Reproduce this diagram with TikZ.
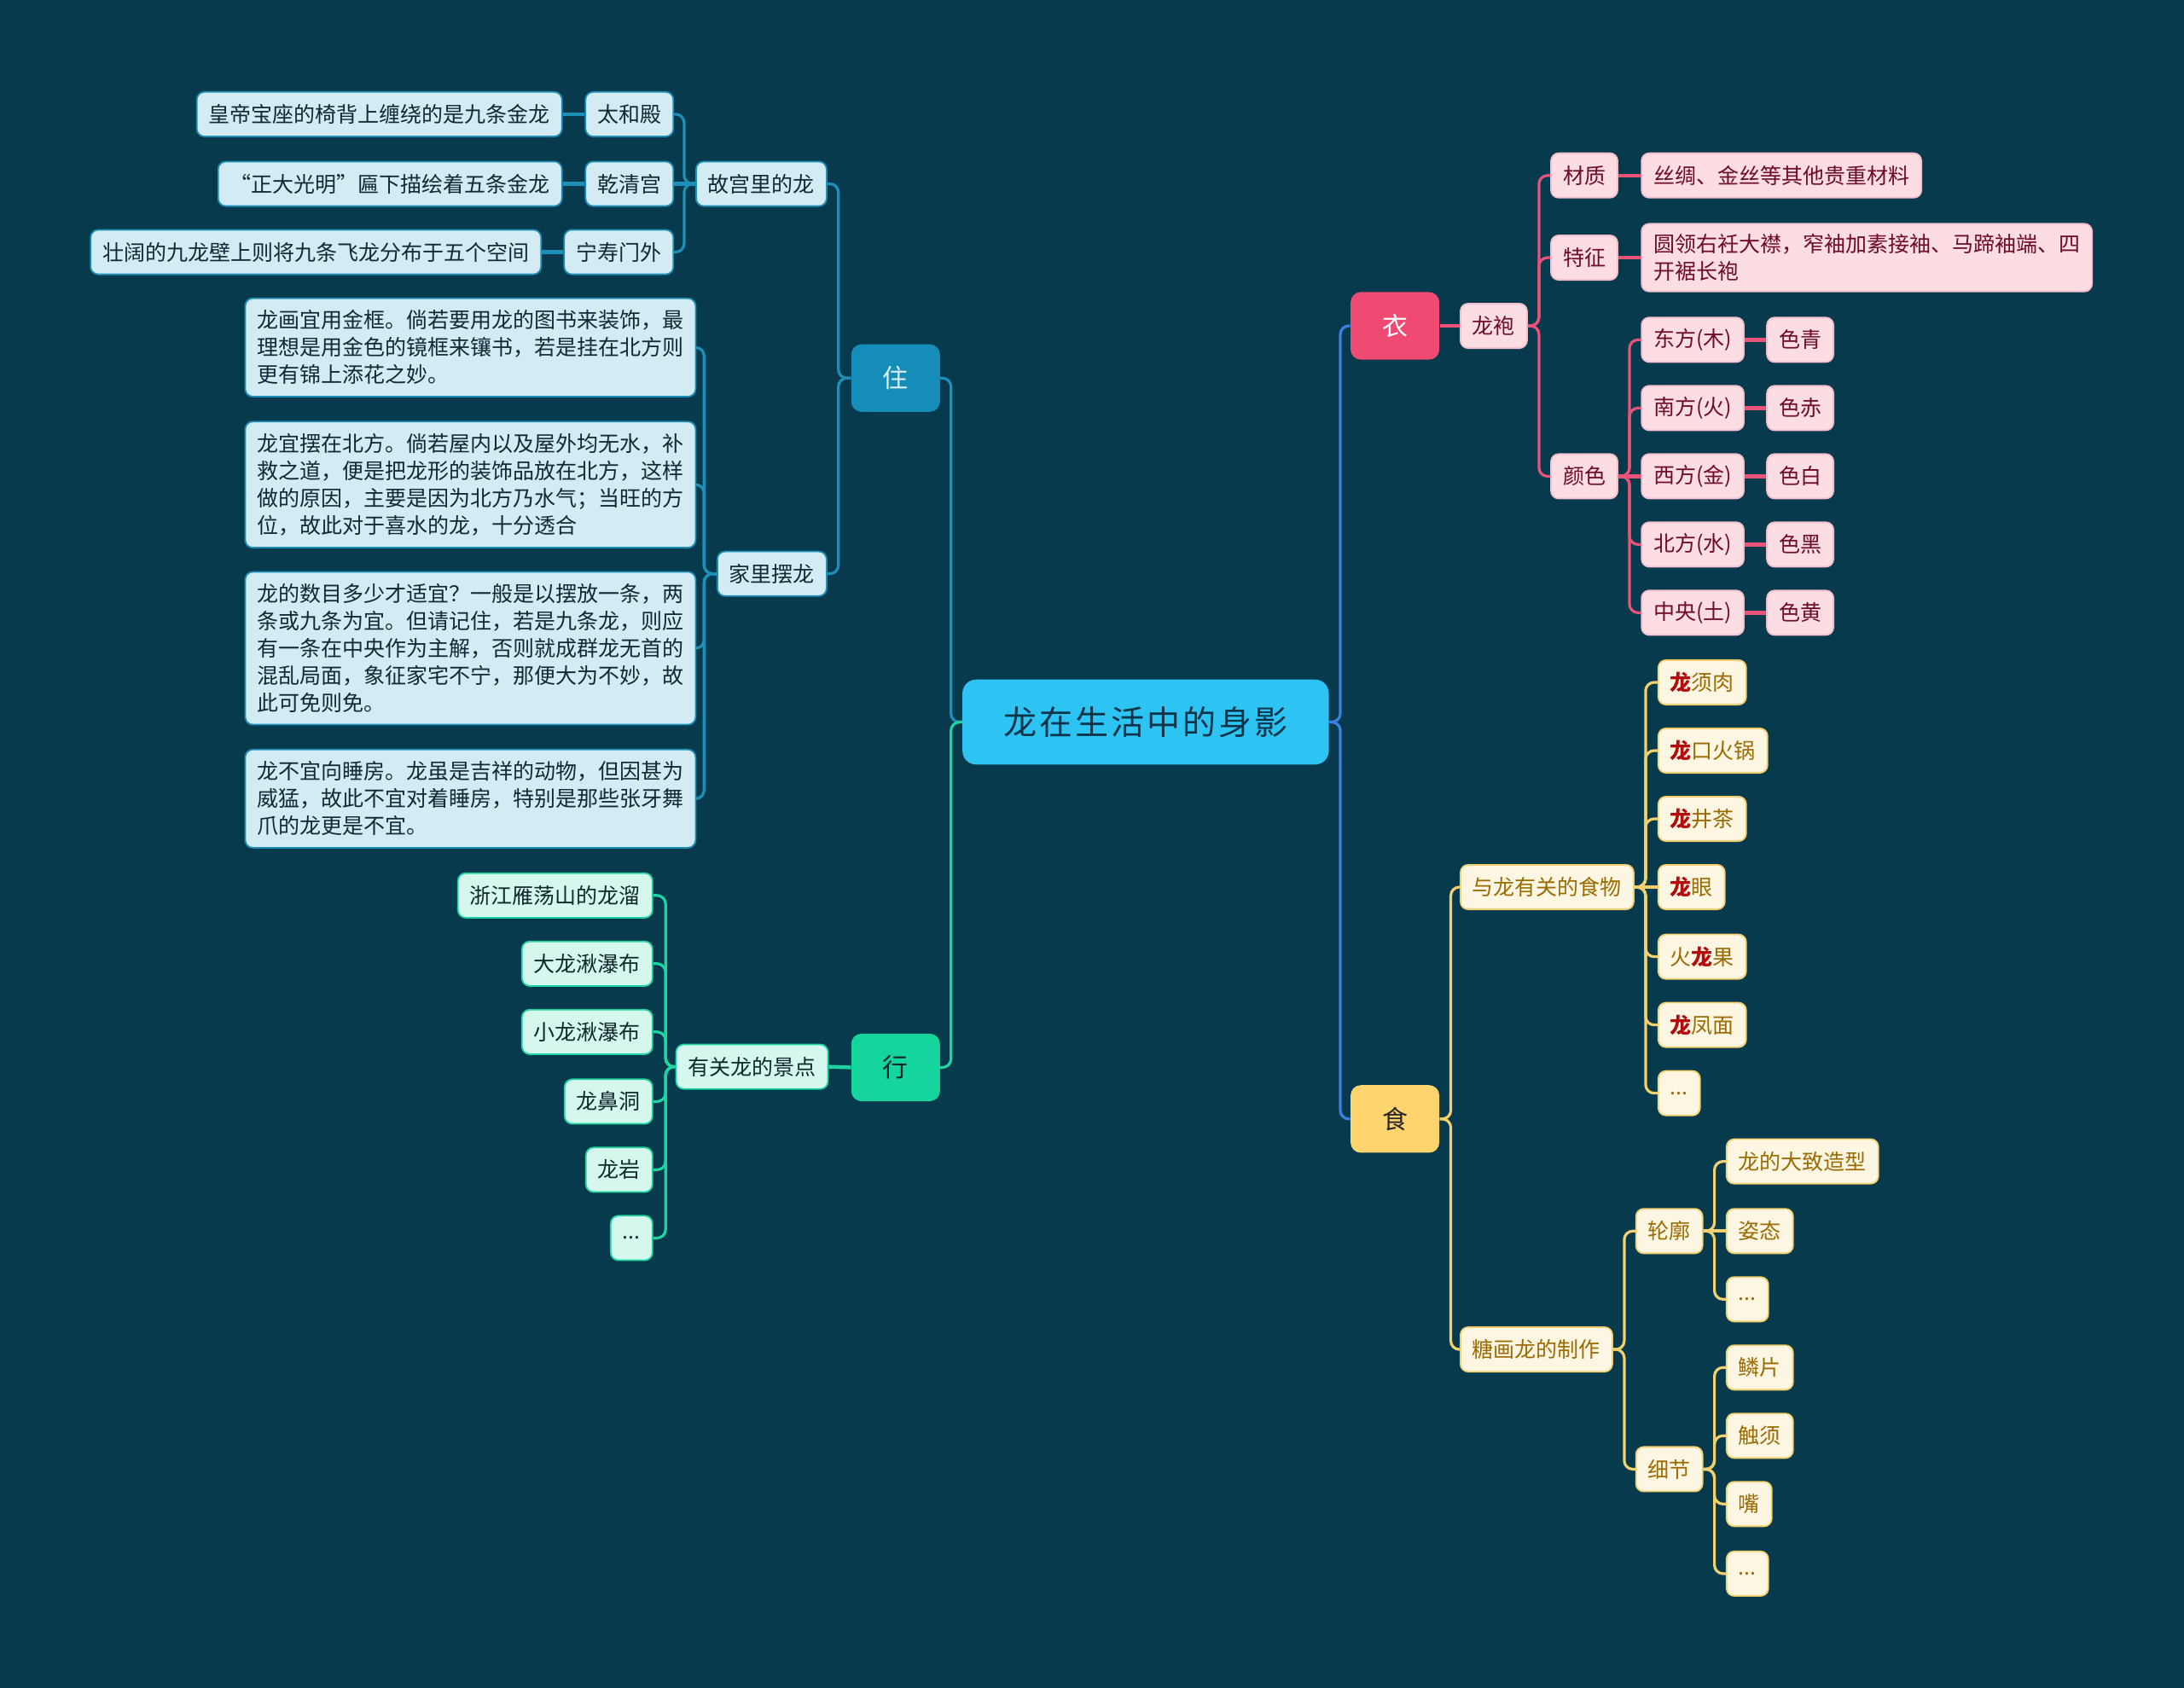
\documentclass[tikz,border=0pt]{standalone}
\usepackage{fontspec}
\setmainfont{Noto Sans CJK SC}
\definecolor{bg}{HTML}{083A4E}
\definecolor{rootF}{HTML}{2DC3F2}
\definecolor{rootT}{HTML}{0D3448}
\definecolor{rootR}{HTML}{3B82E0}
\definecolor{zhuL}{HTML}{1E8FB9}
\definecolor{zhuF}{HTML}{D3EBF2}
\definecolor{zhuT}{HTML}{0E2A38}
\definecolor{zhuMain}{HTML}{168DB9}
\definecolor{zhuMainT}{HTML}{D8F2FA}
\definecolor{xingL}{HTML}{1ED4A0}
\definecolor{xingF}{HTML}{D5F7EE}
\definecolor{xingT}{HTML}{10282C}
\definecolor{xingMain}{HTML}{15D49C}
\definecolor{yiL}{HTML}{E8537A}
\definecolor{yiF}{HTML}{FCDDE4}
\definecolor{yiB}{HTML}{F3BFCC}
\definecolor{yiT}{HTML}{6E0B25}
\definecolor{yiMain}{HTML}{EE4A74}
\definecolor{shiL}{HTML}{F3D06E}
\definecolor{shiF}{HTML}{FDF6E3}
\definecolor{shiT}{HTML}{9B6A00}
\definecolor{shiMain}{HTML}{FED46E}
\definecolor{dred}{HTML}{B30D0D}
\newcommand\rc[1]{\makebox[21pt]{#1}}
\newcommand\RL{{\color{dred}\bfseries 龙}}
\tikzset{
  box/.style={rounded corners=4.5pt, minimum height=26.1pt, inner xsep=7pt, inner ysep=4pt,
    font=\fontsize{12.5pt}{16pt}\selectfont, line width=0.9pt, align=left},
  zhu/.style={box, fill=zhuF, draw=zhuL, text=zhuT},
  xing/.style={box, fill=xingF, draw=xingL, text=xingT},
  yi/.style={box, fill=yiF, draw=yiB, text=yiT},
  shi/.style={box, fill=shiF, draw=shiL, text=shiT},
  para/.style={zhu, inner ysep=7pt},
  dots/.style={minimum width=24.5pt},
  mainbox/.style={rounded corners=6pt, minimum width=52pt, minimum height=39.6pt,
    font=\fontsize{15pt}{18pt}\selectfont},
  ln/.style={line width=1.6pt, rounded corners=5pt},
  stub/.style={line width=2.2pt},
}
\begin{document}
\begin{tikzpicture}[x=0.8163pt,y=-0.8163pt]
\fill[bg] (0,0) rectangle (1568,1212);
\useasboundingbox (0,0) rectangle (1568,1212);

% root
\node[fill=rootF, text=rootT, rounded corners=8pt, minimum width=214.7pt, minimum height=49.8pt,
  font=\fontsize{19.5pt}{22pt}\selectfont] (root) at (822.5,518.5)
  {\rc{龙}\rc{在}\rc{生}\rc{活}\rc{中}\rc{的}\rc{身}\rc{影}};

% main branches
\node[mainbox, fill=zhuMain, text=zhuMainT] (zhu) at (643,271.5) {住};
\node[mainbox, fill=xingMain, text=xingT] (xing) at (643,766.5) {行};
\node[mainbox, fill=yiMain, text=white] (yi) at (1001.5,234) {衣};
\node[mainbox, fill=shiMain, text=black!85] (shi) at (1001.5,803.5) {食};

\draw[ln, zhuL] (root.west) -- ++(-8,0) |- (zhu.east);
\draw[ln, xingL] (root.west) -- ++(-8,0) |- (xing.east);
\draw[ln, rootR] (root.east) -- ++(8,0) |- (yi.west);
\draw[ln, rootR] (root.east) -- ++(8,0) |- (shi.west);

% ===== 住 =====
\node[zhu, anchor=east] (gg) at (594,132) {故宫里的龙};
\node[zhu, anchor=east] (jl) at (594,412) {家里摆龙};
\draw[ln, zhuL] (zhu.west) -- ++(-9,0) |- (gg.east);
\draw[ln, zhuL] (zhu.west) -- ++(-9,0) |- (jl.east);

\node[zhu, anchor=east] (thd) at (484,82) {太和殿};
\node[zhu, anchor=east] (qqg) at (484,132) {乾清宫};
\node[zhu, anchor=east] (nsm) at (484,181) {宁寿门外};
\draw[ln, zhuL] (gg.west) -- ++(-8,0) |- (thd.east);
\draw[stub, zhuL] (gg.west) -- (qqg.east);
\draw[ln, zhuL] (gg.west) -- ++(-8,0) |- (nsm.east);

\node[zhu, anchor=east] (thd1) at (404,82) {皇帝宝座的椅背上缠绕的是九条金龙};
\node[zhu, anchor=east] (qqg1) at (404,132) {“正大光明”匾下描绘着五条金龙};
\node[zhu, anchor=east] (nsm1) at (389,181) {壮阔的九龙壁上则将九条飞龙分布于五个空间};
\draw[stub, zhuL] (thd.west) -- (thd1.east);
\draw[stub, zhuL] (qqg.west) -- (qqg1.east);
\draw[stub, zhuL] (nsm.west) -- (nsm1.east);

\node[para, anchor=east] (p1) at (500,249.5) {龙画宜用金框。倘若要用龙的图书来装饰，最\\理想是用金色的镜框来镶书，若是挂在北方则\\更有锦上添花之妙。};
\node[para, anchor=east] (p2) at (500,348) {龙宜摆在北方。倘若屋内以及屋外均无水，补\\救之道，便是把龙形的装饰品放在北方，这样\\做的原因，主要是因为北方乃水气；当旺的方\\位，故此对于喜水的龙，十分透合};
\node[para, anchor=east] (p3) at (500,465.5) {龙的数目多少才适宜？一般是以摆放一条，两\\条或九条为宜。但请记住，若是九条龙，则应\\有一条在中央作为主解，否则就成群龙无首的\\混乱局面，象征家宅不宁，那便大为不妙，故\\此可免则免。};
\node[para, anchor=east] (p4) at (500,573.5) {龙不宜向睡房。龙虽是吉祥的动物，但因甚为\\威猛，故此不宜对着睡房，特别是那些张牙舞\\爪的龙更是不宜。};
\foreach \p in {p1,p2,p3,p4}
  \draw[ln, zhuL] (jl.west) -- ++(-9,0) |- (\p.east);

% ===== 行 =====
\node[xing, anchor=east] (jd) at (595,766) {有关龙的景点};
\draw[stub, xingL] (xing.west) -- (jd.east);
\node[xing, anchor=east] (x1) at (469,643) {浙江雁荡山的龙溜};
\node[xing, anchor=east] (x2) at (469,692) {大龙湫瀑布};
\node[xing, anchor=east] (x3) at (469,741) {小龙湫瀑布};
\node[xing, anchor=east] (x4) at (469,791) {龙鼻洞};
\node[xing, anchor=east] (x5) at (469,840) {龙岩};
\node[xing, dots, anchor=east] (x6) at (469,889) {...};
\foreach \c in {x1,x2,x3,x4,x5,x6}
  \draw[ln, xingL] (jd.west) -- ++(-7,0) |- (\c.east);

% ===== 衣 =====
\node[yi, anchor=west] (lp) at (1048,234) {龙袍};
\draw[stub, yiL] (yi.east) -- (lp.west);
\node[yi, anchor=west] (cz) at (1113,126) {材质};
\node[yi, anchor=west] (tz) at (1113,185) {特征};
\node[yi, anchor=west] (ys) at (1113,342) {颜色};
\foreach \c in {cz,tz,ys}
  \draw[ln, yiL] (lp.east) -- ++(8,0) |- (\c.west);
\node[yi, anchor=west] (cz1) at (1178,126) {丝绸、金丝等其他贵重材料};
\node[yi, anchor=west, inner ysep=6pt] (tz1) at (1178,185) {圆领右衽大襟，窄袖加素接袖、马蹄袖端、四\\开裾长袍};
\draw[stub, yiL] (cz.east) -- (cz1.west);
\draw[stub, yiL] (tz.east) -- (tz1.west);

\node[yi, anchor=west] (d1) at (1178,244) {东方(木)};
\node[yi, anchor=west] (d2) at (1178,293) {南方(火)};
\node[yi, anchor=west] (d3) at (1178,342) {西方(金)};
\node[yi, anchor=west] (d4) at (1178,391) {北方(水)};
\node[yi, anchor=west] (d5) at (1178,440) {中央(土)};
\draw[ln, yiL] (ys.east) -- ++(8,0) |- (d1.west);
\draw[ln, yiL] (ys.east) -- ++(8,0) |- (d2.west);
\draw[stub, yiL] (ys.east) -- (d3.west);
\draw[ln, yiL] (ys.east) -- ++(8,0) |- (d4.west);
\draw[ln, yiL] (ys.east) -- ++(8,0) |- (d5.west);

\node[yi, anchor=west] (c1) at (1268,244) {色青};
\node[yi, anchor=west] (c2) at (1268,293) {色赤};
\node[yi, anchor=west] (c3) at (1268,342) {色白};
\node[yi, anchor=west] (c4) at (1268,391) {色黑};
\node[yi, anchor=west] (c5) at (1268,440) {色黄};
\foreach \i in {1,...,5}
  \draw[stub, yiL] (d\i.east) -- (c\i.west);

% ===== 食 =====
\node[shi, anchor=west] (sw) at (1048,637) {与龙有关的食物};
\node[shi, anchor=west] (th) at (1048,969) {糖画龙的制作};
\draw[ln, shiL] (shi.east) -- ++(8,0) |- (sw.west);
\draw[ln, shiL] (shi.east) -- ++(8,0) |- (th.west);

\node[shi, anchor=west] (f1) at (1190,490) {\RL 须肉};
\node[shi, anchor=west] (f2) at (1190,539) {\RL 口火锅};
\node[shi, anchor=west] (f3) at (1190,588) {\RL 井茶};
\node[shi, anchor=west] (f4) at (1190,637) {\RL 眼};
\node[shi, anchor=west] (f5) at (1190,687) {火\RL 果};
\node[shi, anchor=west] (f6) at (1190,736) {\RL 凤面};
\node[shi, dots, anchor=west] (f7) at (1190,785) {...};
\foreach \c in {f1,f2,f3,f5,f6,f7}
  \draw[ln, shiL] (sw.east) -- ++(8,0) |- (\c.west);
\draw[stub, shiL] (sw.east) -- (f4.west);

\node[shi, anchor=west] (lk) at (1174,884) {轮廓};
\node[shi, anchor=west] (xj) at (1174,1055) {细节};
\draw[ln, shiL] (th.east) -- ++(8,0) |- (lk.west);
\draw[ln, shiL] (th.east) -- ++(8,0) |- (xj.west);

\node[shi, anchor=west] (l1) at (1239,834) {龙的大致造型};
\node[shi, anchor=west] (l2) at (1239,884) {姿态};
\node[shi, dots, anchor=west] (l3) at (1239,933) {...};
\draw[ln, shiL] (lk.east) -- ++(8,0) |- (l1.west);
\draw[stub, shiL] (lk.east) -- (l2.west);
\draw[ln, shiL] (lk.east) -- ++(8,0) |- (l3.west);

\node[shi, anchor=west] (m1) at (1239,982) {鳞片};
\node[shi, anchor=west] (m2) at (1239,1031) {触须};
\node[shi, anchor=west] (m3) at (1239,1080) {嘴};
\node[shi, dots, anchor=west] (m4) at (1239,1130) {...};
\foreach \c in {m1,m2,m3,m4}
  \draw[ln, shiL] (xj.east) -- ++(8,0) |- (\c.west);
\end{tikzpicture}
\end{document}
